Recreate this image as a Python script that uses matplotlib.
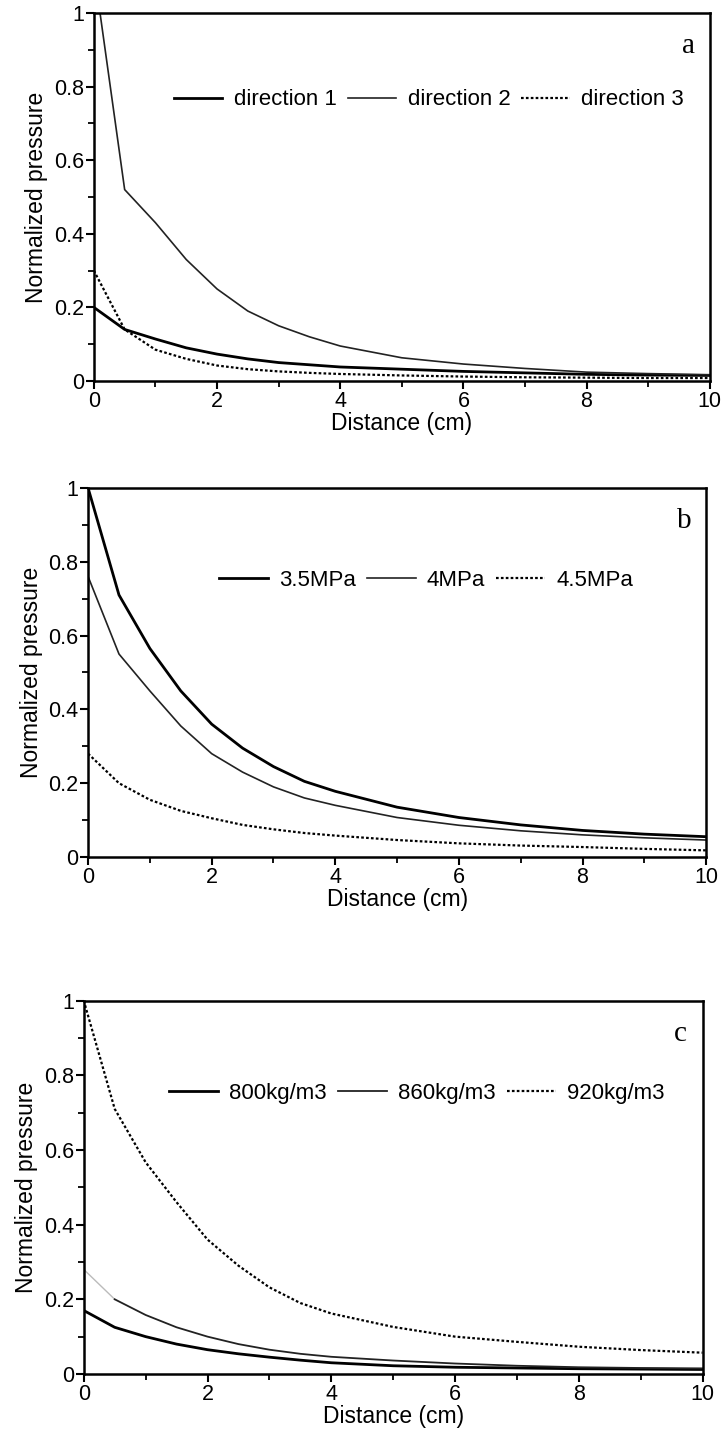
import matplotlib
matplotlib.use('Agg')
import matplotlib.pyplot as plt
from matplotlib.ticker import MultipleLocator

plt.rcParams['font.family'] = ['Liberation Sans', 'DejaVu Sans']

# distance grid (cm)
dist = [0, 0.5, 1, 1.5, 2, 2.5, 3, 3.5, 4, 5, 6, 7, 8, 9, 10]
dist_d2 = [0.1, 0.5, 1, 1.5, 2, 2.5, 3, 3.5, 4, 5, 6, 7, 8, 9, 10]

# panel a - direction
dir1 = [0.2, 0.14, 0.114, 0.09, 0.073, 0.06, 0.05, 0.044, 0.038, 0.032, 0.026, 0.022, 0.018, 0.016, 0.015]
dir2 = [1.0, 0.52, 0.43, 0.33, 0.25, 0.19, 0.15, 0.12, 0.095, 0.063, 0.046, 0.034, 0.024, 0.02, 0.017]
dir3 = [0.3, 0.14, 0.085, 0.06, 0.042, 0.032, 0.026, 0.022, 0.019, 0.015, 0.012, 0.01, 0.009, 0.008, 0.008]

# panel b - pressure
p35 = [1.0, 0.71, 0.565, 0.45, 0.36, 0.295, 0.245, 0.205, 0.178, 0.135, 0.107, 0.087, 0.072, 0.062, 0.055]
p40 = [0.76, 0.55, 0.45, 0.355, 0.28, 0.23, 0.19, 0.16, 0.14, 0.107, 0.086, 0.071, 0.06, 0.052, 0.046]
p45 = [0.28, 0.2, 0.155, 0.125, 0.105, 0.087, 0.075, 0.065, 0.058, 0.046, 0.037, 0.031, 0.027, 0.022, 0.018]

# panel c - density
r800 = [0.17, 0.125, 0.1, 0.08, 0.065, 0.054, 0.045, 0.037, 0.03, 0.022, 0.018, 0.016, 0.014, 0.013, 0.012]
r860 = [0.28, 0.2, 0.158, 0.125, 0.1, 0.08, 0.065, 0.054, 0.046, 0.036, 0.028, 0.022, 0.018, 0.016, 0.015]
r920 = [1.0, 0.71, 0.567, 0.46, 0.36, 0.29, 0.232, 0.19, 0.162, 0.126, 0.1, 0.086, 0.073, 0.064, 0.057]

dotted = (0, (1.2, 1.0))

fig = plt.figure(figsize=(7.22, 14.36), dpi=100)

axa = fig.add_axes([0.130, 0.7347, 0.853, 0.2563])
axb = fig.add_axes([0.122, 0.4032, 0.856, 0.2570])
axc = fig.add_axes([0.116, 0.0432, 0.857, 0.2600])

axa.plot(dist, dir1, color='black', lw=2.0, label='direction 1')
axa.plot(dist_d2, dir2, color='#222222', lw=1.2, label='direction 2')
axa.plot(dist, dir3, color='black', lw=1.6, ls=dotted, label='direction 3')

axb.plot(dist, p35, color='black', lw=2.0, label='3.5MPa')
axb.plot(dist, p40, color='#222222', lw=1.2, label='4MPa')
axb.plot(dist, p45, color='black', lw=1.6, ls=dotted, label='4.5MPa')

axc.plot(dist, r800, color='black', lw=2.0, label='800kg/m3')
axc.plot(dist[:2], r860[:2], color='#bbbbbb', lw=1.0)
axc.plot(dist[1:], r860[1:], color='#222222', lw=1.3, label='860kg/m3')
axc.plot(dist, r920, color='black', lw=1.6, ls=dotted, label='920kg/m3')

letters = ['a', 'b', 'c']
leg_pos = [(0.544, 0.764), (0.547, 0.75), (0.538, 0.751)]
for ax, let, lp in zip([axa, axb, axc], letters, leg_pos):
    ax.set_xlim(0, 10)
    ax.set_ylim(0, 1)
    ax.xaxis.set_major_locator(MultipleLocator(2))
    ax.xaxis.set_minor_locator(MultipleLocator(1))
    ax.yaxis.set_major_locator(MultipleLocator(0.2))
    ax.yaxis.set_minor_locator(MultipleLocator(0.1))
    ax.set_yticks([0, 0.2, 0.4, 0.6, 0.8, 1.0])
    ax.set_yticklabels(['0', '0.2', '0.4', '0.6', '0.8', '1'])
    ax.tick_params(which='major', direction='out', length=6, width=1.5, labelsize=15.5, pad=1)
    ax.tick_params(which='minor', direction='out', length=4, width=1.3)
    for sp in ax.spines.values():
        sp.set_linewidth(1.8)
    ax.set_xlabel('Distance (cm)', fontsize=16.5, labelpad=0)
    ax.set_ylabel('Normalized pressure', fontsize=16.5, labelpad=4)
    ax.text(0.965, 0.91, let, transform=ax.transAxes, fontsize=21,
            family=['Liberation Serif', 'DejaVu Serif'], ha='center', va='center')
    ax.legend(loc='center', bbox_to_anchor=lp, ncol=3, frameon=False, fontsize=16,
              handlelength=2.2, handletextpad=0.5, columnspacing=0.5)

fig.savefig('out.png', dpi=100)
